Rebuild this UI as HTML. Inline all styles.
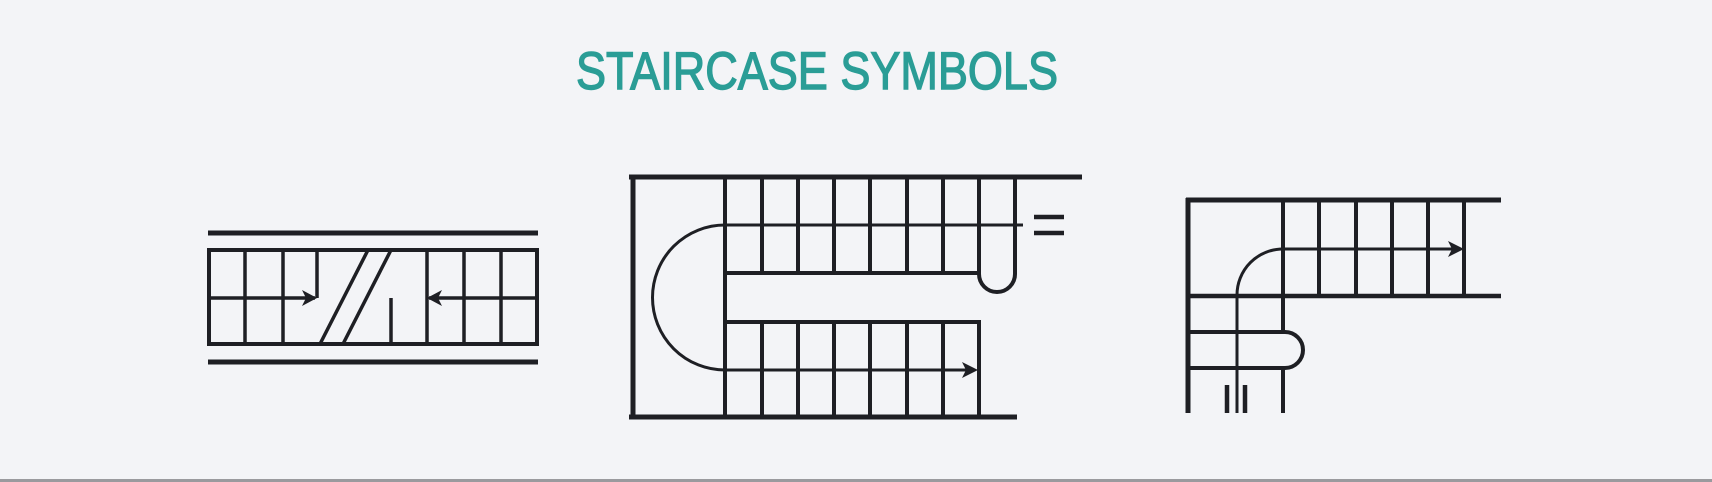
<!DOCTYPE html>
<html><head><meta charset="utf-8"><style>
html,body{margin:0;padding:0;background:#f3f4f7;}
svg{display:block;}
</style></head><body>
<svg width="1712" height="482" viewBox="0 0 1712 482">
<rect x="0" y="0" width="1712" height="482" fill="#f3f4f7"/>
<text x="576" y="89" textLength="482" lengthAdjust="spacingAndGlyphs" font-family="Liberation Sans, sans-serif" font-size="53" fill="#2a9d96" stroke="#2a9d96" stroke-width="1.4">STAIRCASE SYMBOLS</text>
<rect x="0" y="479" width="1712" height="3" fill="#9a9a9e"/>

<g stroke="#1e1f24" fill="none" stroke-linecap="butt">
  <line x1="208" y1="233" x2="538" y2="233" stroke-width="5"/>
  <line x1="208" y1="362" x2="538" y2="362" stroke-width="5"/>
  <rect x="209" y="250" width="328" height="94" stroke-width="4"/>
  <g stroke-width="3.5">
    <line x1="245" y1="250" x2="245" y2="344"/>
    <line x1="283" y1="250" x2="283" y2="344"/>
    <line x1="317" y1="250" x2="317" y2="298"/>
    <line x1="209" y1="298" x2="315" y2="298"/>
    <line x1="320" y1="344" x2="368" y2="250"/>
    <line x1="343" y1="344" x2="391" y2="250"/>
    <line x1="391" y1="298" x2="391" y2="344"/>
    <line x1="427" y1="250" x2="427" y2="344"/>
    <line x1="464" y1="250" x2="464" y2="344"/>
    <line x1="501" y1="250" x2="501" y2="344"/>
    <line x1="429" y1="298" x2="537" y2="298"/>
  </g>
  <polygon points="317,298 302,290 306,298 302,306" fill="#1e1f24" stroke="none"/>
  <polygon points="427,298 442,290 438,298 442,306" fill="#1e1f24" stroke="none"/>
</g>

<g stroke="#1e1f24" fill="none">
  <line x1="629" y1="177" x2="1082" y2="177" stroke-width="5"/>
  <line x1="633" y1="177" x2="633" y2="417" stroke-width="5"/>
  <line x1="629" y1="417" x2="1017" y2="417" stroke-width="5"/>
  <g stroke-width="4">
    <line x1="725" y1="177" x2="725" y2="417"/>
    <line x1="762" y1="177" x2="762" y2="273"/>
    <line x1="798" y1="177" x2="798" y2="273"/>
    <line x1="834" y1="177" x2="834" y2="273"/>
    <line x1="870" y1="177" x2="870" y2="273"/>
    <line x1="907" y1="177" x2="907" y2="273"/>
    <line x1="943" y1="177" x2="943" y2="273"/>
    <path d="M979,177 L979,274 A18,18 0 0 0 1015,274 L1015,177"/>
    <line x1="725" y1="273" x2="979" y2="273"/>
    <line x1="725" y1="322" x2="981" y2="322"/>
    <line x1="979" y1="322" x2="979" y2="417"/>
    <line x1="762" y1="322" x2="762" y2="417"/>
    <line x1="798" y1="322" x2="798" y2="417"/>
    <line x1="834" y1="322" x2="834" y2="417"/>
    <line x1="870" y1="322" x2="870" y2="417"/>
    <line x1="907" y1="322" x2="907" y2="417"/>
    <line x1="943" y1="322" x2="943" y2="417"/>
  </g>
  <g stroke-width="3">
    <line x1="725" y1="225" x2="1023" y2="225"/>
    <path d="M725,225 A72.5,72.5 0 0 0 725,370"/>
    <line x1="725" y1="370" x2="970" y2="370"/>
  </g>
  <polygon points="978,370 962,362 966,370 962,378" fill="#1e1f24" stroke="none"/>
  <line x1="1034" y1="217" x2="1064" y2="217" stroke-width="4.5"/>
  <line x1="1034" y1="233" x2="1064" y2="233" stroke-width="4.5"/>
</g>

<g stroke="#1e1f24" fill="none">
  <line x1="1186" y1="200" x2="1501" y2="200" stroke-width="5"/>
  <line x1="1188" y1="198" x2="1188" y2="413" stroke-width="5"/>
  <line x1="1188" y1="296" x2="1501" y2="296" stroke-width="4.5"/>
  <g stroke-width="4">
    <line x1="1283" y1="200" x2="1283" y2="332"/>
    <line x1="1319" y1="200" x2="1319" y2="296"/>
    <line x1="1356" y1="200" x2="1356" y2="296"/>
    <line x1="1392" y1="200" x2="1392" y2="296"/>
    <line x1="1428" y1="200" x2="1428" y2="296"/>
    <line x1="1464" y1="200" x2="1464" y2="296"/>
    <path d="M1188,332 L1285,332 A18,18 0 0 1 1285,368 L1188,368"/>
    <line x1="1283" y1="368" x2="1283" y2="413"/>
  </g>
  <g stroke-width="3">
    <path d="M1283,249 L1458,249"/>
    <path d="M1283,249 A46,46 0 0 0 1237,295 L1237,413"/>
  </g>
  <polygon points="1464,249 1448,241 1452,249 1448,257" fill="#1e1f24" stroke="none"/>
  <line x1="1227" y1="385" x2="1227" y2="413" stroke-width="4.5"/>
  <line x1="1245" y1="385" x2="1245" y2="413" stroke-width="4.5"/>
</g>
</svg>
</body></html>
